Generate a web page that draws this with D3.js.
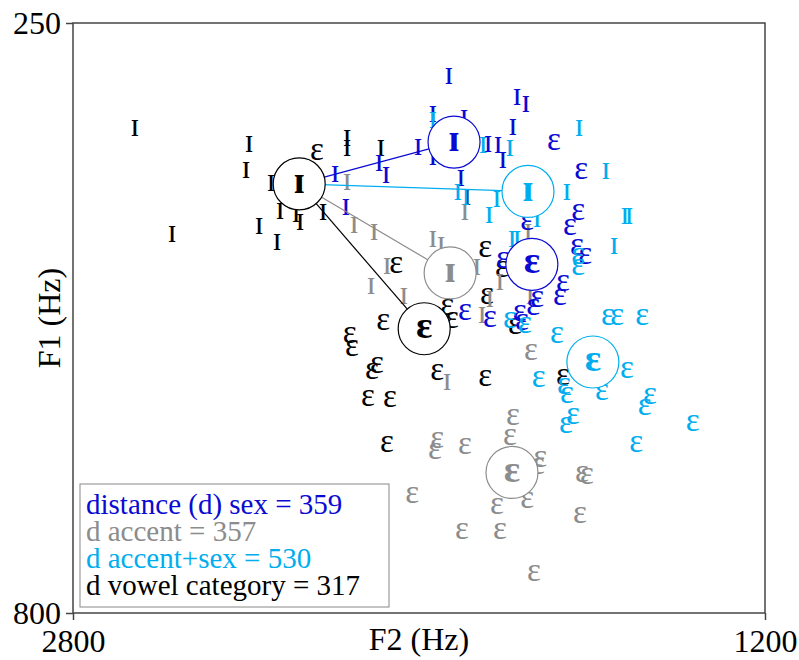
<!DOCTYPE html>
<html>
<head>
<meta charset="utf-8">
<script src="https://cdn.jsdelivr.net/npm/d3@7"></script>
<style>
  body { margin: 0; background: #fff; }
  text { font-family: "Liberation Serif", "Times New Roman", "DejaVu Serif", serif; }
</style>
</head>
<body>
<div id="chart"></div>
<script>
// Tokens as [F2, F1] in Hz, one array per group and vowel
// black = reference speakers, blue = sex, grey = accent, cyan = accent+sex
var baseI = [[2657, 348], [2393, 363], [2400, 387], [2342, 400], [2321, 426], [2284, 428],
  [2275, 436], [2222, 427], [2370, 440], [2328, 455], [2571, 447], [2166, 358], [2166, 367],
  [2088, 367], [1889, 413]];
var baseE = [[2236, 371], [1847, 461], [2053, 476], [1808, 480], [1843, 505], [1935, 515],
  [1924, 527], [2083, 529], [2160, 541], [2155, 553], [2097, 569], [2109, 575], [2118, 600],
  [2067, 601], [2074, 643], [1958, 576], [1847, 581], [1778, 533], [1667, 580]];

var sexI = [[1931, 300], [1968, 335], [1896, 339], [1968, 375], [2002, 366], [2092, 381],
  [2076, 392], [2194, 391], [2169, 422], [1903, 395], [1773, 319], [1753, 326], [1783, 347],
  [1840, 363], [1817, 364], [1806, 378]];
var sexE = [[1688, 361], [1625, 388], [1632, 427], [1651, 441], [1635, 459], [1616, 468],
  [1750, 436], [1806, 471], [1667, 493], [1674, 506], [1727, 508], [1736, 515], [1894, 520],
  [1836, 526], [1767, 521], [1762, 529]];

var accentI = [[2166, 399], [2150, 439], [2104, 445], [2074, 477], [2111, 496], [2035, 505],
  [1968, 452], [1949, 457], [1894, 427], [1866, 478], [1813, 492], [1836, 508], [1854, 523],
  [1748, 445], [1743, 505], [1935, 585]];
var accentE = [[1741, 557], [1783, 618], [1790, 636], [1720, 657], [1725, 663], [1958, 639],
  [1963, 649], [1894, 645], [1623, 671], [1612, 673], [2016, 690], [1820, 701], [1750, 695],
  [1628, 709], [1901, 724], [1813, 724], [1734, 763]];

var accentSexI = [[1968, 341], [1852, 364], [1790, 367], [1910, 408], [1891, 413], [1820, 414],
  [1838, 429], [1658, 408], [1630, 348], [1568, 388], [1524, 430], [1514, 430], [1549, 458],
  [1785, 452], [1773, 452], [1727, 433]];
var accentSexE = [[1632, 468], [1632, 478], [1563, 524], [1542, 524], [1484, 524], [1681, 541],
  [1790, 527], [1755, 532], [1723, 582], [1665, 589], [1658, 597], [1577, 594], [1519, 574],
  [1466, 598], [1478, 608], [1644, 617], [1660, 625], [1367, 623], [1498, 643]];

// Group means, order: base, sex, accent, accent+sex
var groupColors = ["#000000", "#0a0ad2", "#8c8c8c", "#00aeef"];
var meanIF2 = [2277, 1919, 1928, 1748];
var meanIF1 = [400, 361, 483, 407];
var meanEF2 = [1988, 1739, 1785, 1598];
var meanEF1 = [535, 475, 669, 566];

var legendLines = ["distance (d) sex = 359", "d accent = 357", "d accent+sex = 530", "d vowel category = 317"];
var legendColors = ["#0a0ad2", "#8c8c8c", "#00aeef", "#000000"];

var xTicks = [2800, 1200];
var yTicks = [250, 800];

var svgWidth = 799;
var svgHeight = 660;
var plotLeft = 73, plotRight = 765, plotTop = 23, plotBottom = 613;

var svg = d3.select("#chart")
  .append("svg")
    .attr("width", svgWidth)
    .attr("height", svgHeight);

// F2 runs high to low, F1 runs low to high going down
var x = d3.scaleLinear().domain([2800, 1200]).range([plotLeft, plotRight]);
var y = d3.scaleLinear().domain([250, 800]).range([plotTop, plotBottom]);

// frame
svg.append("rect")
  .attr("x", plotLeft)
  .attr("y", plotTop)
  .attr("width", plotRight - plotLeft)
  .attr("height", plotBottom - plotTop)
  .attr("fill", "none")
  .attr("stroke", "#444")
  .attr("stroke-width", 1.5);

var yAxis = svg.append("g")
  .attr("transform", "translate(" + plotLeft + ",0)")
  .call(d3.axisLeft(y).tickValues(yTicks).tickFormat(d3.format("d")).tickSize(7).tickSizeOuter(0).tickPadding(5));
var xAxis = svg.append("g")
  .attr("transform", "translate(0," + plotBottom + ")")
  .call(d3.axisBottom(x).tickValues(xTicks).tickFormat(d3.format("d")).tickSize(7).tickSizeOuter(0).tickPadding(9));

[yAxis, xAxis].forEach(function(g) {
  g.select(".domain").remove();
  g.selectAll("line").attr("stroke", "#444").attr("stroke-width", 1.5);
  g.selectAll("text")
    .attr("fill", "#000")
    .style("font-family", "'Liberation Serif', serif")
    .style("font-size", "32px");
});

svg.append("text")
  .attr("x", (plotLeft + plotRight) / 2)
  .attr("y", 650)
  .attr("text-anchor", "middle")
  .style("font-size", "32px")
  .text("F2 (Hz)");

svg.append("text")
  .attr("transform", "translate(60," + ((plotTop + plotBottom) / 2) + ") rotate(-90)")
  .attr("text-anchor", "middle")
  .style("font-size", "32px")
  .text("F1 (Hz)");

// individual tokens
var groups = [
  { data: baseI, sym: "\u026A", color: groupColors[0] },
  { data: baseE, sym: "\u025B", color: groupColors[0] },
  { data: accentI, sym: "\u026A", color: groupColors[2] },
  { data: accentE, sym: "\u025B", color: groupColors[2] },
  { data: sexI, sym: "\u026A", color: groupColors[1] },
  { data: sexE, sym: "\u025B", color: groupColors[1] },
  { data: accentSexI, sym: "\u026A", color: groupColors[3] },
  { data: accentSexE, sym: "\u025B", color: groupColors[3] }
];

groups.forEach(function(grp) {
  svg.append("g")
    .selectAll("text")
    .data(grp.data)
    .enter()
    .append("text")
    .attr("x", function(d) { return x(d[0]); })
    .attr("y", function(d) { return y(d[1]); })
    .attr("dy", "0.23em")
    .attr("text-anchor", "middle")
    .attr("fill", grp.color)
    .style("font-size", "33px")
    .text(grp.sym);
});

// lines from the reference ɪ mean to the other ɪ means and to the reference ɛ mean
var lineEnds = [
  { f2: meanIF2[1], f1: meanIF1[1], color: groupColors[1] },
  { f2: meanIF2[3], f1: meanIF1[3], color: groupColors[3] },
  { f2: meanIF2[2], f1: meanIF1[2], color: groupColors[2] },
  { f2: meanEF2[0], f1: meanEF1[0], color: groupColors[0] }
];
svg.append("g")
  .selectAll("line")
  .data(lineEnds)
  .enter()
  .append("line")
  .attr("x1", x(meanIF2[0]))
  .attr("y1", y(meanIF1[0]))
  .attr("x2", function(d) { return x(d.f2); })
  .attr("y2", function(d) { return y(d.f1); })
  .attr("stroke", function(d) { return d.color; })
  .attr("stroke-width", 1.2);

// mean circles with bold vowel labels
var means = [];
groupColors.forEach(function(c, i) {
  means.push({ f2: meanIF2[i], f1: meanIF1[i], sym: "\u026A", color: c });
  means.push({ f2: meanEF2[i], f1: meanEF1[i], sym: "\u025B", color: c });
});

var meanG = svg.append("g")
  .selectAll("g")
  .data(means)
  .enter()
  .append("g")
  .attr("transform", function(d) { return "translate(" + x(d.f2) + "," + y(d.f1) + ")"; });

meanG.append("circle")
  .attr("r", 26)
  .attr("fill", "#fff")
  .attr("stroke", function(d) { return d.color; })
  .attr("stroke-width", 1.2);

meanG.append("text")
  .attr("dy", "0.24em")
  .attr("text-anchor", "middle")
  .attr("fill", function(d) { return d.color; })
  .style("font-size", "38px")
  .style("font-weight", "bold")
  .text(function(d) { return d.sym; });

// legend box
svg.append("rect")
  .attr("x", 80)
  .attr("y", 484)
  .attr("width", 309)
  .attr("height", 123)
  .attr("fill", "#fff")
  .attr("stroke", "#888")
  .attr("stroke-width", 1);

svg.append("g")
  .selectAll("text")
  .data(legendLines)
  .enter()
  .append("text")
  .attr("x", 86)
  .attr("y", function(d, i) { return 514 + i * 27; })
  .attr("fill", function(d, i) { return legendColors[i]; })
  .style("font-size", "29px")
  .text(function(d) { return d; });
</script>
</body>
</html>
